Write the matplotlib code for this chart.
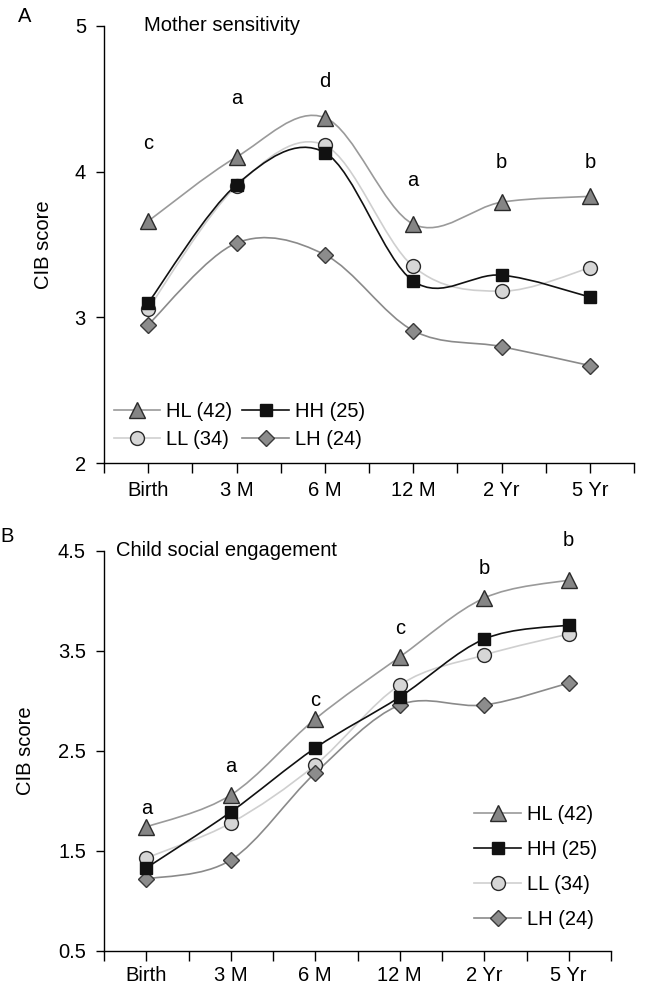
import matplotlib
matplotlib.use("Agg")
import matplotlib.pyplot as plt
from matplotlib.path import Path
from matplotlib.patches import PathPatch
from matplotlib.lines import Line2D
import numpy as np

plt.rcParams['font.family'] = ['Liberation Sans', 'DejaVu Sans']

categories = ["Birth", "3 M", "6 M", "12 M", "2 Yr", "5 Yr"]
groups = ["HL (42)", "HH (25)", "LL (34)", "LH (24)"]

# Panel A: Mother sensitivity
a_HL = [3.66, 4.10, 4.37, 3.64, 3.79, 3.83]
a_HH = [3.10, 3.91, 4.13, 3.25, 3.29, 3.14]
a_LL = [3.06, 3.90, 4.18, 3.35, 3.18, 3.34]
a_LH = [2.95, 3.51, 3.43, 2.91, 2.80, 2.67]
a_letters = ["c", "a", "d", "a", "b", "b"]
a_letter_y = [4.19, 4.50, 4.62, 3.94, 4.06, 4.06]

# Panel B: Child social engagement
b_HL = [1.74, 2.06, 2.82, 3.44, 4.03, 4.21]
b_HH = [1.33, 1.89, 2.53, 3.04, 3.62, 3.76]
b_LL = [1.43, 1.78, 2.36, 3.16, 3.46, 3.67]
b_LH = [1.22, 1.41, 2.28, 2.96, 2.96, 3.18]
b_letters = ["a", "a", "c", "c", "b", "b"]
b_letter_y = [1.93, 2.34, 3.01, 3.73, 4.32, 4.61]

FS = 14.5

styles = {
    "HL (42)": dict(color="#9a9a9a", marker="^", mfc="#858585", mec="#2a2a2a", ms=12),
    "HH (25)": dict(color="#111111", marker="s", mfc="#111111", mec="#111111", ms=9),
    "LL (34)": dict(color="#cfcfcf", marker="o", mfc="#d6d6d6", mec="#2a2a2a", ms=10),
    "LH (24)": dict(color="#8a8a8a", marker="D", mfc="#8c8c8c", mec="#3a3a3a", ms=8.5),
}


def smooth_path(x, y):
    pts = np.column_stack([x, y]).astype(float)
    n = len(pts)
    verts = [pts[0]]
    codes = [Path.MOVETO]
    for i in range(n - 1):
        p0 = pts[i - 1] if i > 0 else pts[i]
        p1 = pts[i]
        p2 = pts[i + 1]
        p3 = pts[i + 2] if i + 2 < n else pts[i + 1]
        c1 = p1 + (p2 - p0) / 6.0
        c2 = p2 - (p3 - p1) / 6.0
        verts += [c1, c2, p2]
        codes += [Path.CURVE4] * 3
    return Path(verts, codes)


def draw_panel(ax, series, letters, letter_y, ylim, yticks, ytlabels, title, title_x, xpad):
    x = np.arange(len(categories))
    order = ["LL (34)", "HL (42)", "LH (24)", "HH (25)"]
    for g in order:
        st = styles[g]
        ax.add_patch(PathPatch(smooth_path(x, series[g]), fill=False,
                               edgecolor=st["color"], lw=1.2, zorder=2))
    for g in order:
        st = styles[g]
        ax.plot(x, series[g], linestyle="none", marker=st["marker"], ms=st["ms"],
                mfc=st["mfc"], mec=st["mec"], mew=1.0, zorder=3)
    for xi, (lt, ly) in enumerate(zip(letters, letter_y)):
        ax.text(xi, ly, lt, ha="center", va="center", fontsize=FS)
    ax.set_xlim(-0.5, len(categories) - 0.5)
    ax.set_ylim(*ylim)
    ax.set_xticks(x)
    ax.set_xticklabels(categories, fontsize=FS)
    ax.set_xticks(np.arange(-0.5, len(categories)), minor=True)
    ax.set_yticks(yticks)
    ax.set_yticklabels(ytlabels, fontsize=FS)
    ax.tick_params(axis="x", which="both", direction="out", length=7, width=1, pad=xpad)
    ax.tick_params(axis="y", which="both", direction="out", length=6, width=1, pad=7)
    for s in ["top", "right"]:
        ax.spines[s].set_visible(False)
    for s in ["left", "bottom"]:
        ax.spines[s].set_linewidth(1.0)
    ax.set_ylabel("CIB score", fontsize=FS)
    ax.text(title_x, ylim[1], title, ha="left", va="center", fontsize=FS)


def handles():
    hs = {}
    for g in groups:
        st = styles[g]
        hs[g] = Line2D([], [], color=st["color"], lw=1.2, marker=st["marker"],
                       ms=st["ms"], mfc=st["mfc"], mec=st["mec"], mew=1.0)
    return hs


fig = plt.figure(figsize=(6.46, 9.86), dpi=100)

axA = fig.add_axes([104 / 646, 1 - 463.3 / 986, (634 - 104) / 646, (463.3 - 25.7) / 986])
seriesA = dict(zip(groups, [a_HL, a_HH, a_LL, a_LH]))
draw_panel(axA, seriesA, a_letters, a_letter_y, (2, 5), [2, 3, 4, 5],
           ["2", "3", "4", "5"], "Mother sensitivity", -0.05, 6)
axA.yaxis.set_label_coords(-0.097, 0.5)
hA = handles()
legA = axA.legend([hA["HL (42)"], hA["LL (34)"], hA["HH (25)"], hA["LH (24)"]],
                  ["HL (42)", "LL (34)", "HH (25)", "LH (24)"], ncol=2, frameon=False,
                  fontsize=FS, loc="lower left", bbox_to_anchor=(-0.008, 0.0),
                  handlelength=2.3, handletextpad=0.3, columnspacing=0.5,
                  labelspacing=0.45, borderaxespad=0.3)

axB = fig.add_axes([104 / 646, 1 - 951 / 986, (611 - 104) / 646, (951 - 551) / 986])
seriesB = dict(zip(groups, [b_HL, b_HH, b_LL, b_LH]))
draw_panel(axB, seriesB, b_letters, b_letter_y, (0.5, 4.5), [0.5, 1.5, 2.5, 3.5, 4.5],
           ["0.5", "1.5", "2.5", "3.5", "4.5"], "Child social engagement", -0.36, 3.5)
axB.yaxis.set_label_coords(-0.136, 0.5)
hB = handles()
legB = axB.legend([hB[g] for g in groups], groups, frameon=False, fontsize=FS,
                  loc="lower right", bbox_to_anchor=(1.0, 0.02),
                  handlelength=2.3, handletextpad=0.3, labelspacing=0.8,
                  borderaxespad=0.3)

fig.text(25 / 646, 1 - 16 / 986, "A", fontsize=FS, ha="center", va="center")
fig.text(0.5 / 646, 1 - 537 / 986, "B", fontsize=FS, ha="left", va="center")

fig.savefig("out.png", dpi=100)
